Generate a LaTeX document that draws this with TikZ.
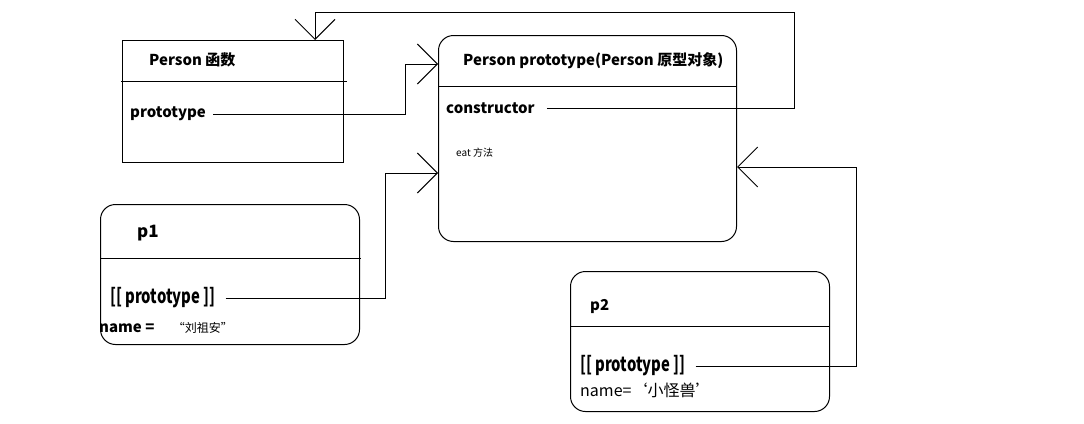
\documentclass[tikz,border=0pt]{standalone}
\usepackage{fontspec}
\usepackage{graphicx}
\setmainfont{Noto Sans CJK SC}
\usetikzlibrary{arrows.meta}
\tikzset{box/.style={draw=black, line width=1pt, rectangle, anchor=north west, inner sep=0pt}}
\tikzset{roundbox/.style={box, rounded corners=15pt}}
\tikzset{label/.style={anchor=west, inner sep=0pt, font=\fontsize{15}{17}\selectfont\bfseries}}
\tikzset{link/.style={line width=1pt, -{Straight Barb[length=20pt, width=40pt, line width=1pt]}}}

\begin{document}
\begin{tikzpicture}[x=1pt, y=-1pt]
    \useasboundingbox (0,0) rectangle (1084,423);
    % the three kinds of boxes
    \node[box, minimum width=221pt, minimum height=122pt] at (122,40) (fn) {};
    \node[roundbox, minimum width=298pt, minimum height=206pt] at (438,35) (proto) {};
    \node[roundbox, minimum width=259pt, minimum height=140pt] at (100,204) (p1) {};
    \node[roundbox, minimum width=259pt, minimum height=140pt] at (570,271) (p2) {};
    \draw [line width=1pt] (121,81) -- (347,81);
    \draw [line width=1pt] (proto.west |- 0,86) -- (proto.east |- 0,86);
    \draw [line width=1pt] (p1.west |- 0,258) -- (361,258);
    \draw [line width=1pt] (p2.west |- 0,326) -- (p2.east |- 0,326);

    \node[label] at (149,60) (fntitle) {Person 函数};
    \node[label] at (130,114) (fnproto) {prototype};
    \node[label] at (463,61) (prototitle) {Person prototype(Person 原型对象)};
    \node[label] at (446,108) (protocons) {constructor};
    \node[label, font=\fontsize{10}{12}\selectfont] at (456,153) (protoeat) {eat 方法};
    \node[label, font=\fontsize{17}{19}\selectfont\bfseries] at (137,233) (p1title) {p1};
    \node[label, font=\fontsize{20}{22}\selectfont\bfseries] at (110,298) (p1proto) {\scalebox{0.74}[1]{[[ prototype ]]}};
    \node[label] at (99,328) (p1name) {name =\quad\ {\mdseries\fontsize{12}{13}\selectfont “刘祖安”}};
    \node[label] at (590,306) (p2title) {p2};
    \node[label, font=\fontsize{20}{22}\selectfont\bfseries] at (580,366) (p2proto) {\scalebox{0.74}[1]{[[ prototype ]]}};
    \node[label, font=\fontsize{16}{18}\selectfont] at (580,390) (p2name) {name=‘小怪兽’};

    % links between the objects
    \coordinate (k1) at (405,64);
    \coordinate (k2) at (794,12);
    \coordinate (k3) at (315,12);
    \coordinate (k4) at (385,173);
    \coordinate (k5) at (856,167);
    \draw [link, shorten <=7pt] (fnproto.east) -- (fnproto.east -| k1) -- (k1) -- (k1 -| proto.west);
    \draw [link, shorten <=12pt] (protocons.east) -- (protocons.east -| k2) -- (k2) -- (k3) -- (k3 |- fn.north);
    \draw [link, shorten <=10pt] (p1proto.east) -- (p1proto.east -| k4) -- (k4) -- (k4 -| proto.west);
    \draw [link, shorten <=10pt] (p2proto.east) -- (p2proto.east -| k5) -- (k5) -- (k5 -| proto.east);
\end{tikzpicture}
\end{document}
